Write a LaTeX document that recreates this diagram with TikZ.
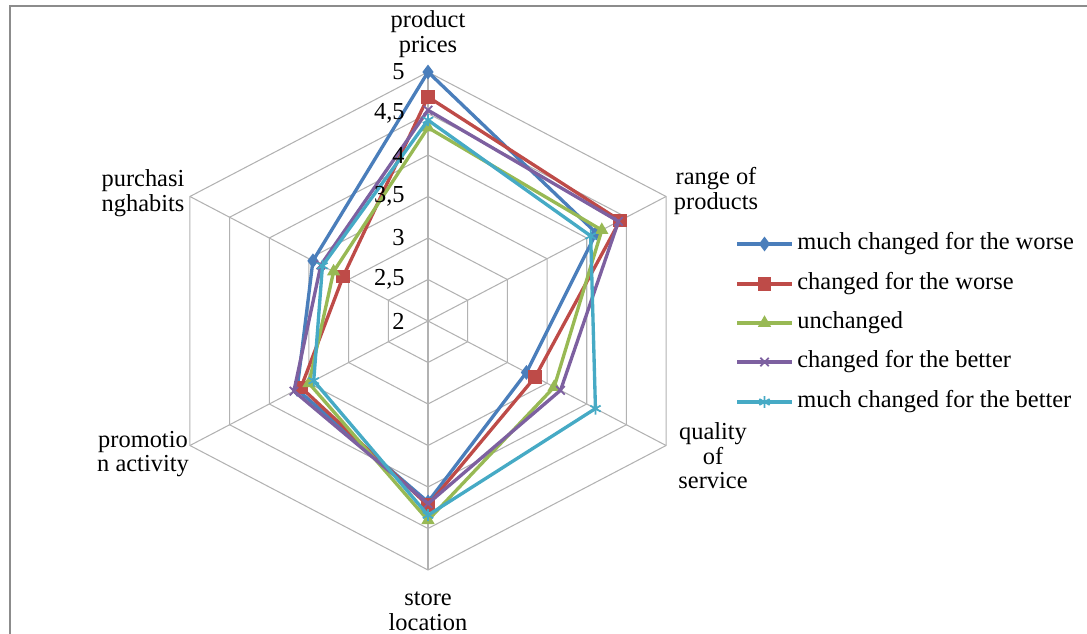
\documentclass[tikz,border=0pt]{standalone}
\usepackage{fontspec}
\setmainfont{Liberation Serif}
\usetikzlibrary{plotmarks}
\definecolor{cblue}{HTML}{4A7EBB}
\definecolor{cred}{HTML}{BE4B48}
\definecolor{cgreen}{HTML}{98B954}
\definecolor{cpurple}{HTML}{7D60A0}
\definecolor{ccyan}{HTML}{46AAC5}
\newcommand\radar[2]{%
  \foreach \v [count=\i] in {#2}
    \coordinate (#1\i) at ({-150+60*\i}:{(\v-2)*83});}
\begin{document}
\begin{tikzpicture}[x=0.02cm, y=-0.02cm,
  font=\fontsize{13.9}{14}\selectfont,
  grid/.style={draw=black!30, line width=0.6pt},
  lab/.style={align=center, inner sep=0pt},
  tck/.style={anchor=east, inner sep=0pt},
  ser/.style={line width=1.9pt, line join=round},
  key/.style={anchor=west, inner sep=0pt}
]
  \useasboundingbox (0,0) rectangle (1087,634);
  \draw[black!45, line width=1.6pt] (10,634) -- (10,6) -- (1087,6);

  \begin{scope}[shift={(428,321)}, xscale=1.104]
    \foreach \r in {1,...,6}
      \draw[grid] (-90:{\r*41.5}) \foreach \a in {-30,30,...,210} { -- (\a:{\r*41.5}) } -- cycle;
    \foreach \a in {-90,-30,...,210}
      \draw[grid] (0,0) -- (\a:249);
    \radar{mw}{5,4.12,3.24,4.18,3.65,3.45}
    \radar{cw}{4.7,4.42,3.35,4.22,3.6,3.07}
    \radar{un}{4.33,4.19,3.59,4.4,3.5,3.19}
    \radar{cb}{4.54,4.4,3.67,4.2,3.69,3.35}
    \radar{mb}{4.42,4.05,4.11,4.34,3.44,3.33}
  \end{scope}

  \node[lab] (pp) at (428,34)  {product\\prices};
  \node[lab] (rp) at (716,191) {range of\\products};
  \node[lab] (qs) at (713,456) {quality\\of\\service};
  \node[lab] (sl) at (428,611) {store\\location};
  \node[lab] (pa) at (143,454) {promotio\\n activity};
  \node[lab] (ph) at (143,193) {purchasi\\nghabits};

  \foreach \s/\c/\m/\y/\t in {mw/cblue/diamond*/244/much changed for the worse,
                              cw/cred/square*/284/changed for the worse,
                              un/cgreen/triangle*/323/unchanged,
                              cb/cpurple/x/362/changed for the better,
                              mb/ccyan/asterisk/402/much changed for the better} {
    \draw[ser, \c] (\s1) -- (\s2) -- (\s3) -- (\s4) -- (\s5) -- (\s6) -- cycle;
    \draw[\c, line width=1pt] plot[only marks, mark=\m, mark size=3.4pt]
      coordinates {(\s1) (\s2) (\s3) (\s4) (\s5) (\s6)};
    \node[key] (k\s) at (797,\y) {\t};
    \draw[ser, \c] (737,\y) -- (792,\y);
    \draw[\c, line width=1pt] plot[only marks, mark=\m, mark size=3.4pt] coordinates {(764.5,\y)};
  }

  \foreach \v/\t in {2/2, 2.5/{2,5}, 3/3, 3.5/{3,5}, 4/4, 4.5/{4,5}, 5/5}
    \node[tck] (t\v) at (405,{321-(\v-2)*83}) {\t};
\end{tikzpicture}
\end{document}
